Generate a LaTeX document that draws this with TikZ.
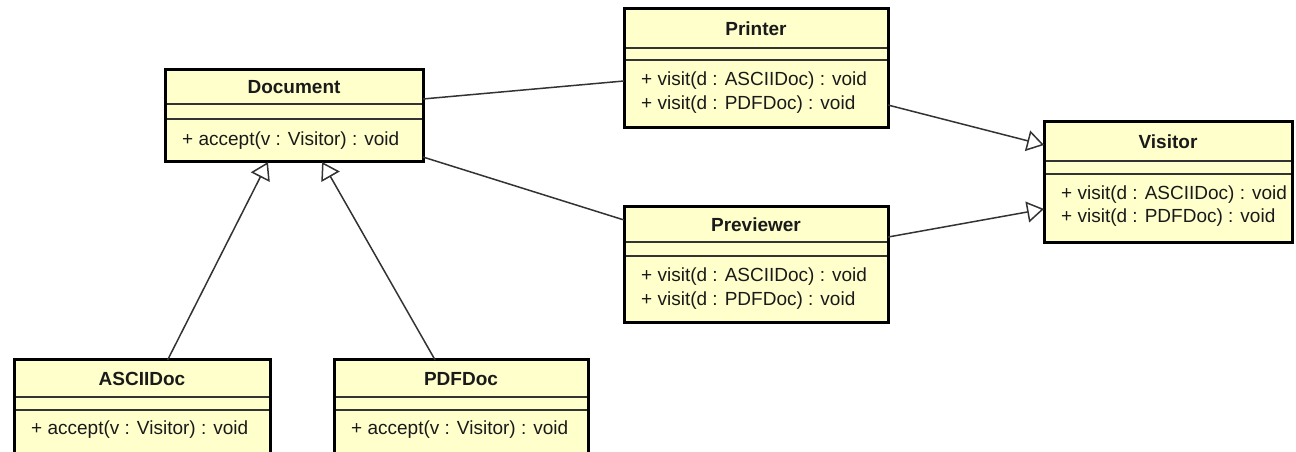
\documentclass[tikz,border=0pt]{standalone}
\usepackage{fontspec}
\setmainfont{Liberation Sans}
\usetikzlibrary{arrows.meta,calc}
\definecolor{umlfill}{HTML}{FFFFCC}
\definecolor{umlline}{HTML}{333333}
\definecolor{umltext}{HTML}{1A1A1A}
\tikzset{
  cls/.style={draw=black, line width=3bp, fill=umlfill, rectangle, anchor=north west, inner sep=0, outer sep=0},
  sepline/.style={draw=umlline, line width=1.3bp, shorten <=1.5bp, shorten >=1.5bp},
  ttl/.style={font=\fontsize{19bp}{24bp}\selectfont\bfseries, text=umltext, inner sep=0},
  mth/.style={font=\fontsize{19bp}{24bp}\selectfont, text=umltext, anchor=west, inner sep=0},
  assoc/.style={draw=umlline, line width=1.5bp},
  gen/.style={assoc, -{Triangle[open, length=17bp, width=21bp, fill=white]}},
}
\begin{document}
\begin{tikzpicture}[x=1bp,y=-1bp]
\useasboundingbox (0,0) rectangle (1296,452);
\clip (0,0) rectangle (1296,452);

% class boxes
\node[cls, minimum width=258bp, minimum height=92bp] (doc) at (165,70) {};
\node[cls, minimum width=264bp, minimum height=119bp] (prn) at (624,9) {};
\node[cls, minimum width=264bp, minimum height=116bp] (prv) at (624,207) {};
\node[cls, minimum width=248bp, minimum height=121bp] (vis) at (1044,122) {};
\node[cls, minimum width=256bp, minimum height=100bp] (asc) at (14,360) {};
\node[cls, minimum width=254bp, minimum height=100bp] (pdf) at (334,360) {};

% compartments
\draw[sepline] ($(doc.north west)+(0,34)$) -- ($(doc.north east)+(0,34)$);
\draw[sepline] ($(doc.north west)+(0,49)$) -- ($(doc.north east)+(0,49)$);
\draw[sepline] ($(prn.north west)+(0,39)$) -- ($(prn.north east)+(0,39)$);
\draw[sepline] ($(prn.north west)+(0,51)$) -- ($(prn.north east)+(0,51)$);
\draw[sepline] ($(prv.north west)+(0,35)$) -- ($(prv.north east)+(0,35)$);
\draw[sepline] ($(prv.north west)+(0,49)$) -- ($(prv.north east)+(0,49)$);
\draw[sepline] ($(vis.north west)+(0,39)$) -- ($(vis.north east)+(0,39)$);
\draw[sepline] ($(vis.north west)+(0,52)$) -- ($(vis.north east)+(0,52)$);
\draw[sepline] ($(asc.north west)+(0,37)$) -- ($(asc.north east)+(0,37)$);
\draw[sepline] ($(asc.north west)+(0,50)$) -- ($(asc.north east)+(0,50)$);
\draw[sepline] ($(pdf.north west)+(0,37)$) -- ($(pdf.north east)+(0,37)$);
\draw[sepline] ($(pdf.north west)+(0,50)$) -- ($(pdf.north east)+(0,50)$);

% titles
\node[ttl] (docT) at ($(doc.north)+(0,17)$) {Document};
\node[ttl] (prnT) at ($(prn.north)+(0,19.5)$) {Printer};
\node[ttl] (prvT) at ($(prv.north)+(0,18)$) {Previewer};
\node[ttl] (visT) at ($(vis.north)+(0,20)$) {Visitor};
\node[ttl] (ascT) at ($(asc.north)+(0,19)$) {ASCIIDoc};
\node[ttl] (pdfT) at ($(pdf.north)+(0,19)$) {PDFDoc};

% methods
\node[mth] (docM) at ($(doc.north west)+(17,71)$) {+ accept(v : Visitor) : void};
\node[mth] (prnM1) at ($(prn.north west)+(17,72)$) {+ visit(d : ASCIIDoc) : void};
\node[mth] (prnM2) at ($(prn.north west)+(17,96)$) {+ visit(d : PDFDoc) : void};
\node[mth] (prvM1) at ($(prv.north west)+(17,70)$) {+ visit(d : ASCIIDoc) : void};
\node[mth] (prvM2) at ($(prv.north west)+(17,94)$) {+ visit(d : PDFDoc) : void};
\node[mth] (visM1) at ($(vis.north west)+(17,73)$) {+ visit(d : ASCIIDoc) : void};
\node[mth] (visM2) at ($(vis.north west)+(17,96)$) {+ visit(d : PDFDoc) : void};
\node[mth] (ascM) at ($(asc.north west)+(17,70)$) {+ accept(v : Visitor) : void};
\node[mth] (pdfM) at ($(pdf.north west)+(17,70)$) {+ accept(v : Visitor) : void};

% connectors
\draw[assoc] ($(doc.north east)!0.315!(doc.south east)$) -- ($(prn.north west)!0.605!(prn.south west)$);
\draw[assoc] ($(doc.north east)!0.946!(doc.south east)$) -- ($(prv.north west)!0.112!(prv.south west)$);
\draw[gen] ($(prn.north east)!0.807!(prn.south east)$) -- ($(vis.north west)!0.19!(vis.south west)$);
\draw[gen] ($(prv.north east)!0.259!(prv.south east)$) -- ($(vis.north west)!0.719!(vis.south west)$);
\draw[gen] ($(asc.north west)!0.60!(asc.north east)$) -- ($(doc.south west)!0.399!(doc.south east)$);
\draw[gen] ($(pdf.north west)!0.398!(pdf.north east)$) -- ($(doc.south west)!0.609!(doc.south east)$);
\end{tikzpicture}
\end{document}
